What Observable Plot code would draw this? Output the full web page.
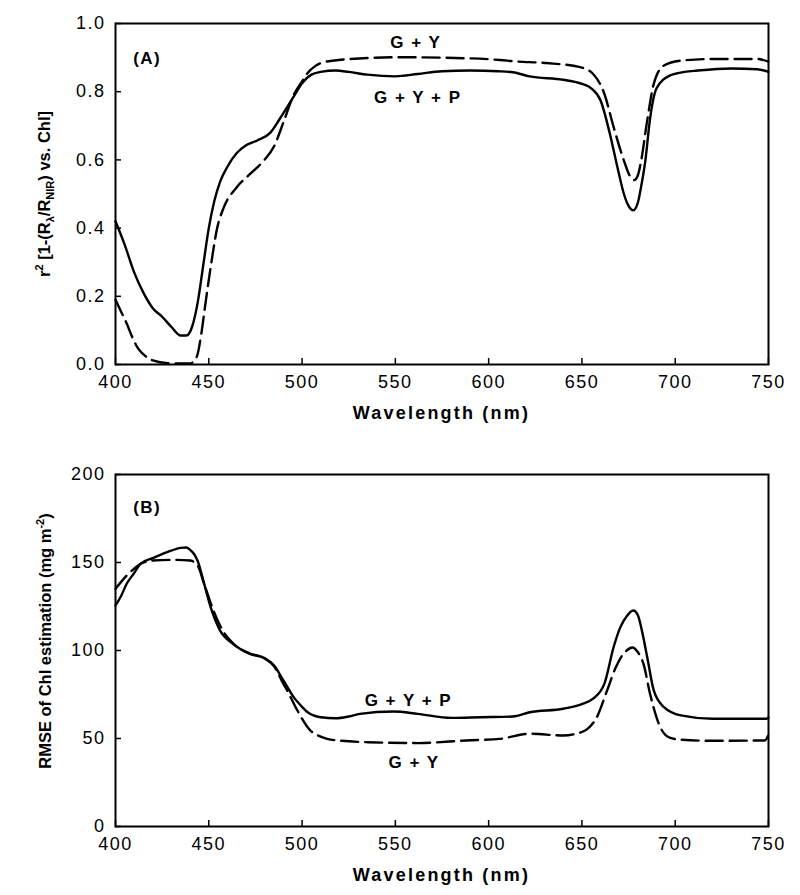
<!DOCTYPE html>
<html>
<head>
<meta charset="utf-8">
<script src="https://cdn.jsdelivr.net/npm/d3@7"></script>
<script src="https://cdn.jsdelivr.net/npm/@observablehq/plot@0.6"></script>
<style>
  html, body { margin: 0; padding: 0; background: #fff; }
  #chart { width: 800px; height: 895px; }
  #chart svg { display: block; }
</style>
</head>
<body>
<div id="chart"></div>
<script>
// ---------- data ----------
const xTicks = [400, 450, 500, 550, 600, 650, 700, 750];
const yTicksA = [0.0, 0.2, 0.4, 0.6, 0.8, 1.0];
const yTicksB = [0, 50, 100, 150, 200];

// Panel A: r^2 of index vs Chl
const wlA_GYP = [400,405,410,415,420,425,430,435,438,441,444,447,450,453,456,460,465,470,476,483,488,492,496,500,505,510,518,525,535,550,562,575,590,605,613,622,640,650,655,660,665,669,672.5,675,677.5,680,682,684,686.5,690,697,705,712,730,744,750];
const rA_GYP  = [0.42,0.35,0.27,0.21,0.165,0.14,0.11,0.085,0.085,0.11,0.18,0.29,0.40,0.48,0.535,0.58,0.62,0.643,0.657,0.68,0.72,0.755,0.79,0.825,0.85,0.858,0.862,0.858,0.85,0.845,0.852,0.86,0.862,0.86,0.857,0.845,0.835,0.823,0.81,0.774,0.676,0.579,0.50,0.465,0.452,0.475,0.53,0.598,0.72,0.81,0.847,0.858,0.862,0.868,0.866,0.858];

const wlA_GY = [400,403,406,409,412,416,420,428,440,442,444,446,448,451,454.5,458,465,472,479.5,485,490,495.5,500,503,507,512,526,553,588,606,614,631,649,656,662,667,672.5,676,678,680,681.5,685,688.5,694,703,720,744,750];
const rA_GY  = [0.19,0.155,0.12,0.08,0.048,0.025,0.012,0.004,0.003,0.01,0.03,0.09,0.17,0.285,0.40,0.46,0.52,0.558,0.598,0.64,0.71,0.79,0.83,0.855,0.875,0.887,0.896,0.901,0.898,0.893,0.889,0.884,0.872,0.852,0.794,0.696,0.598,0.55,0.541,0.555,0.59,0.716,0.823,0.877,0.891,0.896,0.896,0.888];

// Panel B: RMSE of Chl estimation
const wlB_GYP = [400,403,406,410,413.5,420,428,435,438,440,442,444,447.5,451,456,463,472,479.5,485,490,495.5,500,503,510,518,525,531,549,562,580,596,613,622,640,650,656,662,667,670.5,674,677.5,680,682,685,688.5,694,703,720,749,750];
const rmseB_GYP = [125.6,131,137.9,144,149.3,152.5,156,158.3,158.5,157.2,155,151,138,124.6,111.4,103.8,98.1,95.8,91.5,83,73.5,68,64.9,62.1,61.5,62.5,64,65.3,64,61.7,62.1,62.5,64.9,66.9,69.5,72.6,81,102,113,119.5,122.7,120,112,96.2,77.3,67.8,63.1,61.2,61.2,62];

const wlB_GY = [400,403,406,410,413.5,420,430,440,444,447.5,452.5,458,463,472,480,485,490,492,497.5,504.5,509,513.5,520,535,562,588,606,622,640,646,653,658,663.5,668,671,674,677,680,683,686.5,692,697,703,720,748,750];
const rmseB_GY = [135,139,142.6,146.5,149.3,151.1,151.5,151.1,148.3,137.9,122.7,110.4,104,98.3,95.5,91,81,77.3,65.9,54.5,51.5,49.8,48.8,47.9,47.4,48.9,49.8,52.7,51.7,52.5,55.5,62.1,77.3,90,96.2,100,101.7,99,92.4,75.4,56.4,50.5,49.3,48.7,48.9,52];

// annotation labels (data coordinates)
const labelsA = [
  {x: 417, y: 0.897, text: "(A)"},
  {x: 561, y: 0.944, text: "G + Y"},
  {x: 562, y: 0.784, text: "G + Y + P"}
];
const labelsB = [
  {x: 417, y: 181, text: "(B)"},
  {x: 557, y: 71.6, text: "G + Y + P"},
  {x: 560, y: 36.4, text: "G + Y"}
];

const toRows = (xs, ys) => xs.map((x, i) => ({x, y: ys[i]}));

// ---------- drawing ----------
const W = 800, ML = 115, MR = 32;
const plotW = W - ML - MR;
const font = "'Liberation Sans', Arial, Helvetica, sans-serif";

function panel({height, marginTop, marginBottom, yDomain, yTicks, yFormat, solid, dashed, labels}) {
  const plotH = height - marginTop - marginBottom;
  return Plot.plot({
    width: W, height, marginLeft: ML, marginRight: MR, marginTop, marginBottom,
    style: {fontFamily: font, fontSize: "18px", color: "#000", background: "#fff", letterSpacing: "1.5px", overflow: "visible"},
    x: {domain: [400, 750]},
    y: {domain: yDomain},
    marks: [
      Plot.axisX(xTicks, {tickSize: 0, tickPadding: 11, fontSize: 18, label: null}),
      Plot.axisY(yTicks, {tickSize: 0, tickPadding: 10, fontSize: 18, label: null, tickFormat: yFormat}),
      Plot.tickX(xTicks, {x: d => d, insetTop: plotH - 6, stroke: "#000", strokeWidth: 1.5}),
      Plot.tickY(yTicks, {y: d => d, insetRight: plotW - 6, stroke: "#000", strokeWidth: 1.5}),
      Plot.line(dashed, {x: "x", y: "y", stroke: "#000", strokeWidth: 2.4, strokeDasharray: "17,7", curve: "monotone-x"}),
      Plot.line(solid, {x: "x", y: "y", stroke: "#000", strokeWidth: 2.4, curve: "monotone-x"}),
      Plot.text(labels, {x: "x", y: "y", text: "text", fontWeight: "bold", fontSize: 17, fill: "#000"}),
      Plot.frame({stroke: "#000", strokeWidth: 2})
    ]
  });
}

const svgA = panel({
  height: 440, marginTop: 23, marginBottom: 76,
  yDomain: [0, 1], yTicks: yTicksA, yFormat: d3.format(".1f"),
  solid: toRows(wlA_GYP, rA_GYP), dashed: toRows(wlA_GY, rA_GY), labels: labelsA
});
const svgB = panel({
  height: 455, marginTop: 34, marginBottom: 69,
  yDomain: [0, 200], yTicks: yTicksB, yFormat: d3.format("d"),
  solid: toRows(wlB_GYP, rmseB_GYP), dashed: toRows(wlB_GY, rmseB_GY), labels: labelsB
});

const chart = document.getElementById("chart");
chart.appendChild(svgA);
chart.appendChild(svgB);

// x-axis titles
function xTitle(svg, y) {
  d3.select(svg).append("text")
    .attr("x", ML + plotW / 2).attr("y", y)
    .attr("text-anchor", "middle")
    .attr("dominant-baseline", "central")
    .attr("fill", "#000")
    .style("font-family", font)
    .style("font-weight", "bold")
    .style("font-size", "18px")
    .style("letter-spacing", "2.2px")
    .text("Wavelength (nm)");
}
xTitle(svgA, 413);
xTitle(svgB, 875 - 440);

// rotated y-axis titles with sub/superscripts
function yTitle(svg, x, y, parts) {
  const t = d3.select(svg).append("text")
    .attr("transform", `translate(${x},${y}) rotate(-90)`)
    .attr("text-anchor", "middle")
    .attr("fill", "#000")
    .style("font-family", font)
    .style("font-weight", "bold")
    .style("font-size", "16.5px")
    .style("letter-spacing", "0px");
  let shift = 0;
  for (const p of parts) {
    const s = p.sup ? -7 : p.sub ? 4 : 0;
    t.append("tspan")
      .attr("dy", s - shift)
      .style("font-size", (p.sup || p.sub) ? "11px" : "16.5px")
      .text(p.t);
    shift = s;
  }
}
yTitle(svgA, 50, 194, [
  {t: "r"}, {t: "2", sup: true}, {t: " [1-(R"}, {t: "λ", sub: true}, {t: "/R"}, {t: "NIR", sub: true}, {t: ") vs. Chl]"}
]);
yTitle(svgB, 51, 641 - 440, [
  {t: "RMSE of Chl estimation (mg m"}, {t: "-2", sup: true}, {t: ")"}
]);
</script>
</body>
</html>
